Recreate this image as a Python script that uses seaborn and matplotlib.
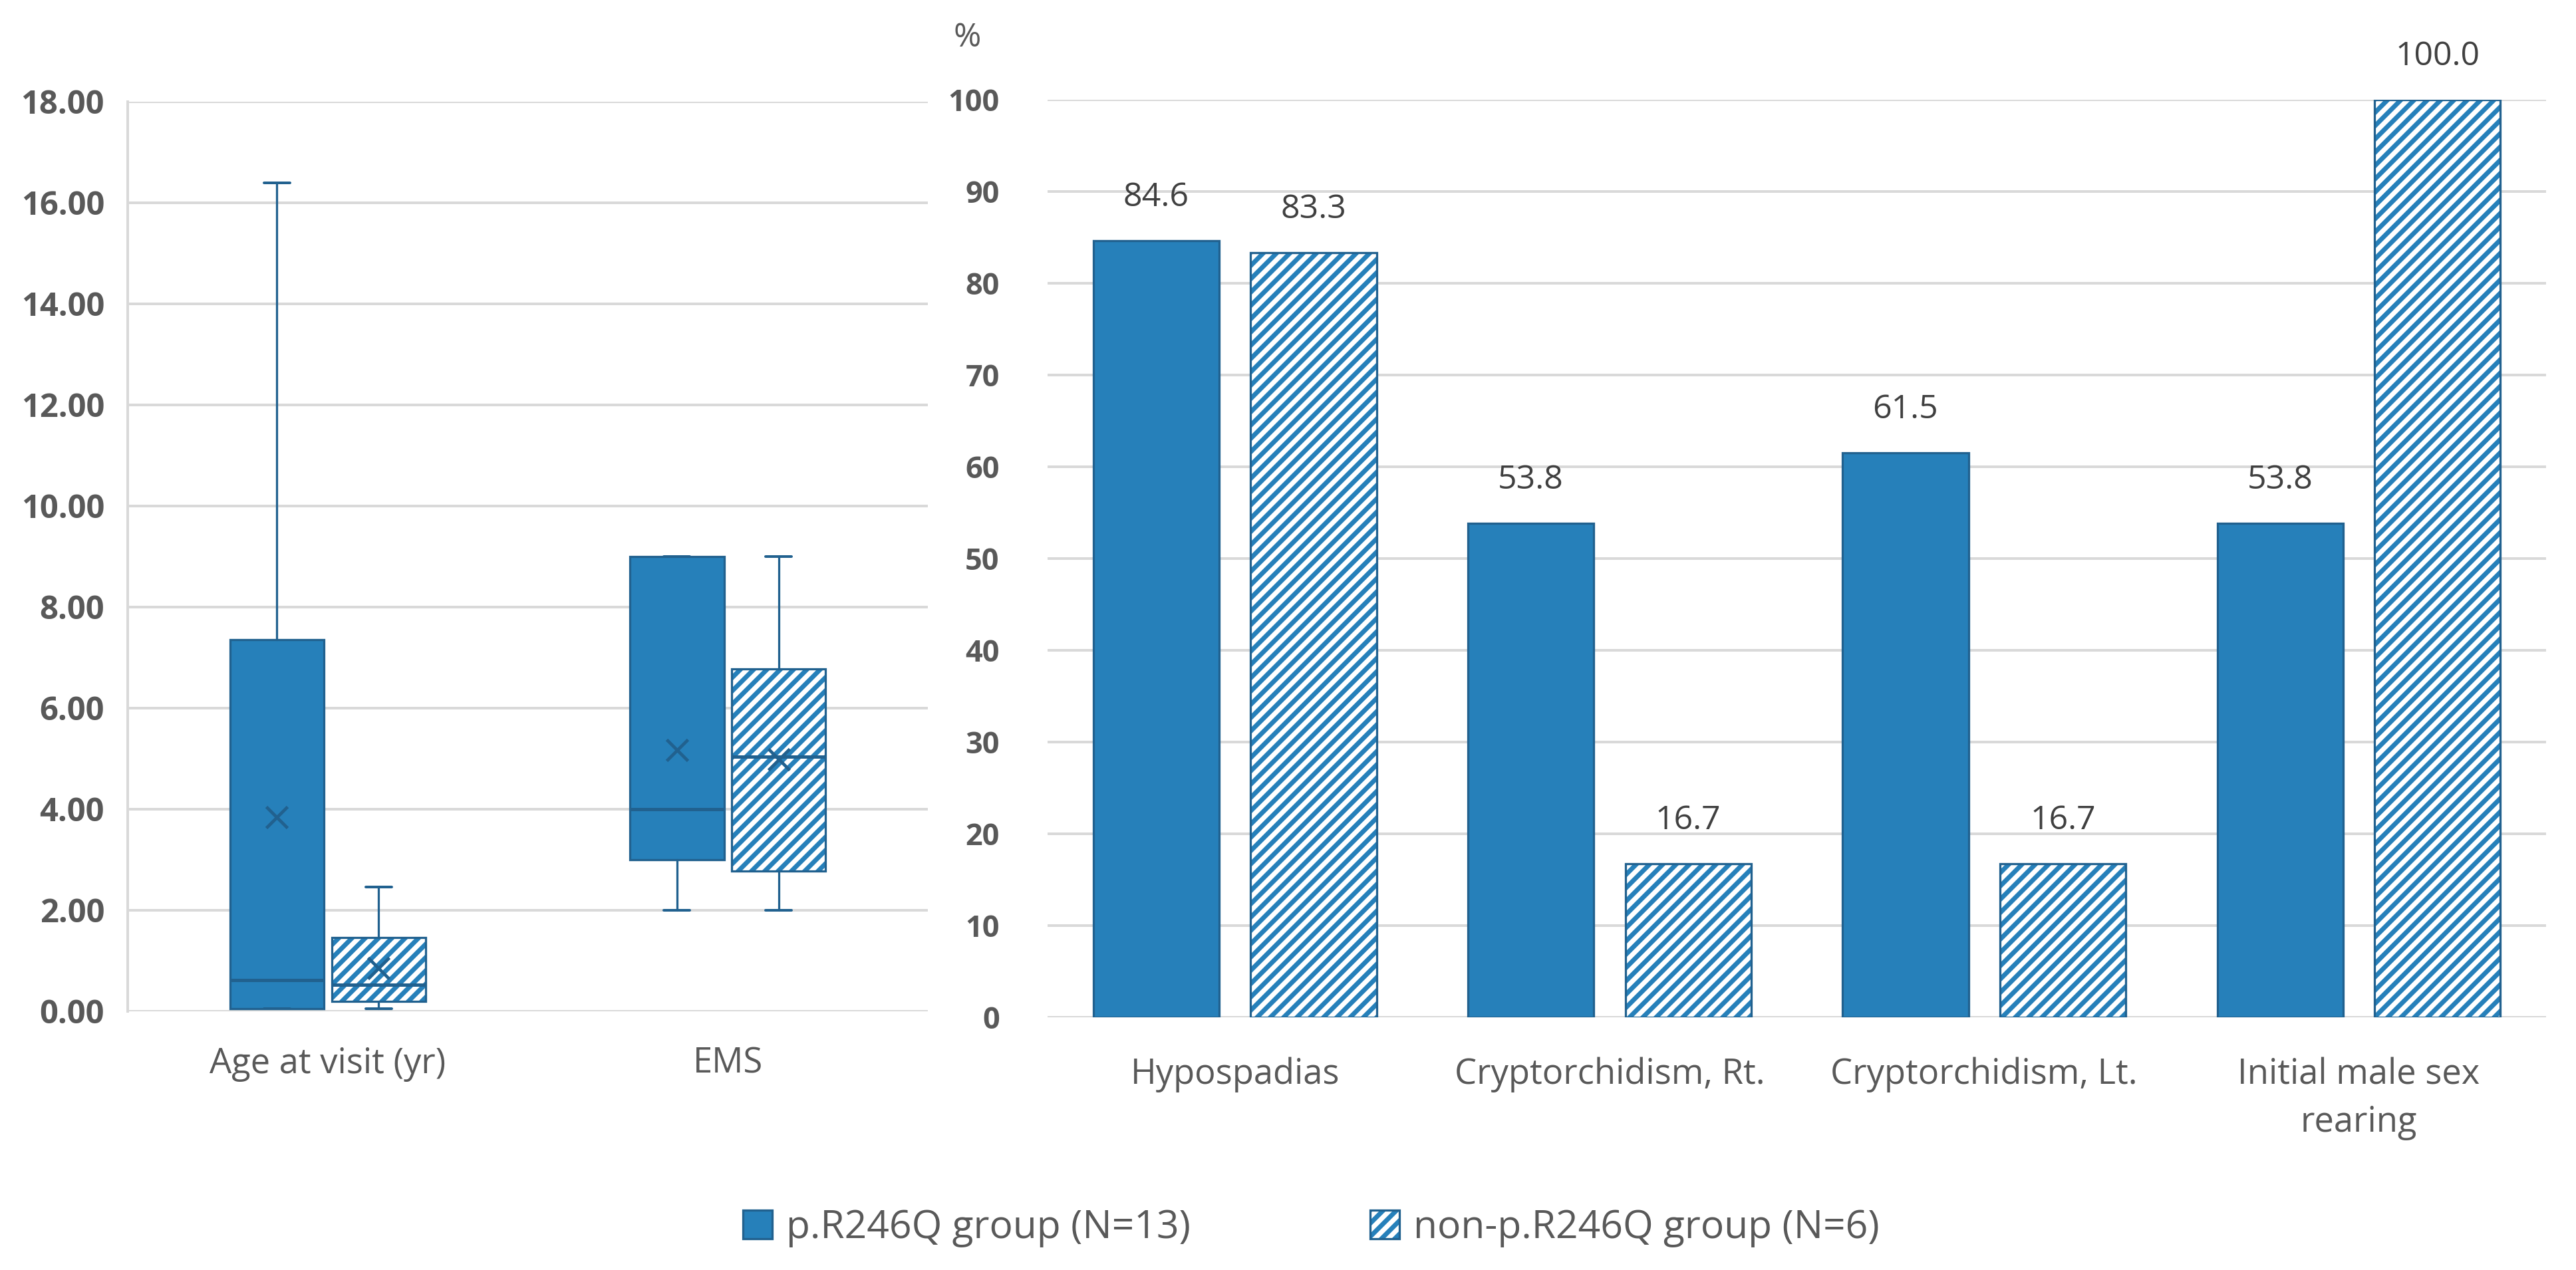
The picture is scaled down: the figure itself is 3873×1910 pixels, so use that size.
import numpy as np
import pandas as pd
import matplotlib.pyplot as plt
import matplotlib.colors as mcolors
from matplotlib.ticker import FormatStrFormatter
import seaborn as sns

# ---- data ----
box_vars = ['Age at visit (yr)', 'EMS']
groups = ['p.R246Q group (N=13)', 'non-p.R246Q group (N=6)']

# box-plot summary, one value per variable (Age, EMS)
r246q_whislo = [0.05, 2.0]
r246q_q1 = [0.05, 3.0]
r246q_med = [0.62, 4.0]
r246q_q3 = [7.35, 9.0]
r246q_whishi = [16.4, 9.0]
r246q_mean = [3.84, 5.17]

non_whislo = [0.05, 2.0]
non_q1 = [0.2, 2.78]
non_med = [0.52, 5.04]
non_q3 = [1.46, 6.78]
non_whishi = [2.46, 9.0]
non_mean = [0.86, 4.99]

bar_cats = ['Hypospadias', 'Cryptorchidism, Rt.', 'Cryptorchidism, Lt.',
            'Initial male sex\nrearing']
r246q_pct = [84.6, 53.8, 61.5, 53.8]
non_pct = [83.3, 16.7, 16.7, 100.0]

FILL = '#2680BA'
EDGE = '#21618F'
GRID = '#D9D9D9'
TXT = '#595959'
DPI = 180


def hatch_it(patch):
    # white face, light-blue stripes, keep the darker outline
    patch.set_facecolor('white')
    patch.set_hatch('///')
    patch.set_edgecolor(EDGE)
    if hasattr(patch, 'set_hatchcolor'):
        patch.set_hatchcolor(FILL)
    else:
        patch._hatch_color = mcolors.to_rgba(FILL)


sns.set_theme(style='white')
plt.rcParams['font.family'] = ['Open Sans', 'DejaVu Sans']
plt.rcParams['hatch.linewidth'] = 2.8

fig = plt.figure(figsize=(3873 / DPI, 1910 / DPI), dpi=DPI)
ax1 = fig.add_axes([0.0496, 0.2037, 0.3106, 0.7162])
ax2 = fig.add_axes([0.4067, 0.1990, 0.5817, 0.7225])

# ---- left panel: box plots ----
stats, positions = [], []
for i in range(len(box_vars)):
    stats.append(dict(whislo=r246q_whislo[i], q1=r246q_q1[i], med=r246q_med[i],
                      q3=r246q_q3[i], whishi=r246q_whishi[i], mean=r246q_mean[i], fliers=[]))
    positions.append(i - 0.127)
    stats.append(dict(whislo=non_whislo[i], q1=non_q1[i], med=non_med[i],
                      q3=non_q3[i], whishi=non_whishi[i], mean=non_mean[i], fliers=[]))
    positions.append(i + 0.127)

bp = ax1.bxp(stats, positions=positions, widths=0.235, capwidths=0.065,
             patch_artist=True, showmeans=True, manage_ticks=False,
             boxprops=dict(facecolor=FILL, edgecolor=EDGE, linewidth=1.3),
             medianprops=dict(color=EDGE, linewidth=2.0),
             whiskerprops=dict(color=EDGE, linewidth=1.3),
             capprops=dict(color=EDGE, linewidth=1.6),
             meanprops=dict(marker='x', markersize=13, markeredgecolor=EDGE,
                            markeredgewidth=1.9))
for k, box in enumerate(bp['boxes']):
    if k % 2 == 1:
        hatch_it(box)

ax1.set_xlim(-0.5, 1.5)
ax1.set_ylim(0, 18)
ax1.set_yticks(np.arange(0, 18.1, 2))
ax1.yaxis.set_major_formatter(FormatStrFormatter('%.2f'))
ax1.set_xticks(range(len(box_vars)))
ax1.set_xticklabels(box_vars)

# ---- right panel: grouped bars ----
df = pd.DataFrame({
    'category': bar_cats * 2,
    'pct': r246q_pct + non_pct,
    'group': [groups[0]] * len(bar_cats) + [groups[1]] * len(bar_cats),
})
sns.barplot(data=df, x='category', y='pct', hue='group', order=bar_cats,
            hue_order=groups, palette=[FILL, FILL], saturation=1,
            width=0.84, gap=0.2, edgecolor=EDGE, linewidth=1.3,
            legend=False, ax=ax2)
for bar in ax2.containers[1]:
    hatch_it(bar)
for cont in ax2.containers:
    ax2.bar_label(cont, fmt='%.1f', padding=16, fontsize=20, color='#404040')

ax2.set_ylim(0, 100)
ax2.set_yticks(np.arange(0, 101, 10))
ax2.set_xlabel('')
ax2.set_ylabel('')

for ax, pad_y, ysize, pad_x in [(ax1, 14, 19.5, 21), (ax2, 29, 18, 24)]:
    ax.set_axisbelow(True)
    ax.yaxis.grid(True, color=GRID, linewidth=1.6)
    ax.xaxis.grid(False)
    for s in ['top', 'right', 'bottom']:
        ax.spines[s].set_visible(False)
    ax.tick_params(axis='y', length=0, pad=pad_y, labelsize=ysize, labelcolor=TXT)
    ax.tick_params(axis='x', length=0, pad=pad_x, labelsize=21, labelcolor=TXT)
    for lab in ax.get_yticklabels():
        lab.set_fontweight('bold')
    for lab in ax.get_xticklabels():
        lab.set_linespacing(1.45)
ax1.spines['left'].set_color(GRID)
ax1.spines['left'].set_linewidth(1.6)
ax2.spines['left'].set_visible(False)

fig.text(1454 / 3873, 1 - 57 / 1910, '%', ha='center', va='center',
         fontsize=20, color=TXT)

handles = [ax2.containers[0][0], ax2.containers[1][0]]
fig.legend(handles, groups, loc='center', bbox_to_anchor=(0.509, 0.033), ncol=2,
           frameon=False, fontsize=23.5, labelcolor=TXT, handlelength=0.75,
           handleheight=0.75, handletextpad=0.35, columnspacing=4.6)

fig.savefig('out.png', dpi=DPI)
